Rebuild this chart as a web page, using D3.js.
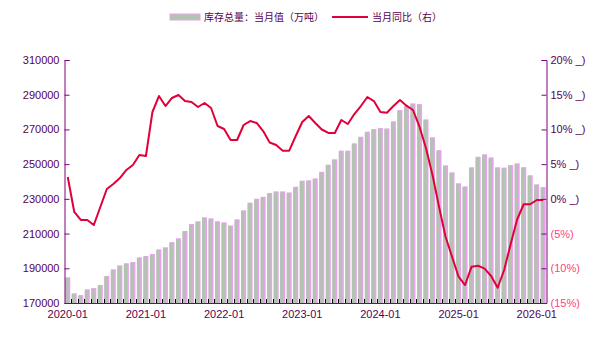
<!DOCTYPE html>
<html><head><meta charset="utf-8">
<script src="https://cdn.jsdelivr.net/npm/d3@7"></script>
<style>
html,body{margin:0;padding:0;background:#fff;}
svg{display:block;font-family:"Liberation Sans",Arial,sans-serif;}
</style></head>
<body>
<svg id="chart" width="606" height="341"></svg>
<script>
// ---- data ----
const months = [];
for (let y = 2020; y <= 2026; y++) {
  for (let m = 1; m <= 12; m++) {
    if (y === 2026 && m > 2) break;
    months.push(y + "-" + String(m).padStart(2, "0"));
  }
}
const barValues = [
  184800,175600,174600,177900,178600,180400,185600,189400,191700,192900,193600,196300,
  197100,198200,200900,202100,205100,207300,211500,215500,217100,219400,218800,217100,
  216500,214700,218200,223400,227800,230100,231200,233400,234300,234300,233700,237000,
  240500,240700,241800,245600,249700,252800,257800,257800,262000,265800,268700,270200,
  270800,270600,274700,281200,283500,285000,284600,275800,265500,258100,249300,245300,
  239000,237200,248200,254300,255700,253900,248200,248000,249500,250500,248300,243600,
  238400,236800
];
const yoyValues = [
  3.15,-1.89,-3.04,-3.04,-3.77,-1.17,1.42,2.14,3.0,4.16,4.88,6.32,
  6.17,12.51,14.81,13.37,14.53,14.96,14.09,13.95,13.23,13.81,13.09,10.49,
  10.06,8.48,8.48,10.64,11.21,10.93,9.77,8.12,7.76,6.94,6.94,9.05,
  11.07,11.93,10.93,9.99,9.49,9.49,11.36,10.78,12.22,13.37,14.67,14.09,
  12.51,12.41,13.37,14.24,13.42,12.80,10.39,7.28,3.44,-1.13,-5.45,-8.33,
  -11.21,-12.41,-9.77,-9.63,-10.06,-11.11,-12.80,-10.25,-6.50,-2.94,-0.78,-0.78,
  -0.16,-0.16
];
const leftTicks = [170000,190000,210000,230000,250000,270000,290000,310000];
const rightTicks = [-15,-10,-5,0,5,10,15,20];
const xLabels = ["2020-01","2021-01","2022-01","2023-01","2024-01","2025-01","2026-01"];
const legendBar = "库存总量：当月值（万吨）";
const legendLine = "当月同比（右）";

// ---- layout ----
const L = 64.5, R = 546.5, T = 60, B = 303;
const axisColor = "#800080", textColor = "#5a0050", negColor = "#ff4088";
const barGray = "#b1c4af", barPink = "#e7a4ec", lineColor = "#e0003a";

const svg = d3.select("#chart");
const x = d3.scaleBand().domain(months).range([L, R]).paddingInner(0).paddingOuter(0);
const yL = d3.scaleLinear().domain([170000, 310000]).range([B, T]);
const yR = d3.scaleLinear().domain([-15, 20]).range([B, T]);
const bw = x.bandwidth();
const barW = 5;
const off = (bw - barW) / 2;

// bars
const bars = svg.append("g");
const data = months.map((m, i) => ({m, v: barValues[i], p: yoyValues[i]}));
bars.selectAll("rect.pink").data(data).join("rect")
  .attr("class", "pink")
  .attr("x", d => x(d.m) + off)
  .attr("y", d => yL(d.v))
  .attr("width", barW)
  .attr("height", d => B - yL(d.v))
  .attr("fill", barPink);
bars.selectAll("rect.gray").data(data).join("rect")
  .attr("class", "gray")
  .attr("x", d => x(d.m) + off)
  .attr("y", d => yL(d.v) + 1)
  .attr("width", barW - 1.7)
  .attr("height", d => Math.max(0, B - yL(d.v) - 1))
  .attr("fill", barGray);

// line
const line = d3.line().x(d => x(d.m) + bw / 2).y(d => yR(d.p));
svg.append("path").datum(data)
  .attr("d", line)
  .attr("fill", "none")
  .attr("stroke", lineColor)
  .attr("stroke-width", 2)
  .attr("stroke-linejoin", "round");

// left axis
const gL = svg.append("g").attr("transform", `translate(${L},0)`)
  .call(d3.axisLeft(yL).tickValues(leftTicks).tickSize(-5).tickPadding(5).tickFormat(d3.format("d")));
gL.select(".domain").attr("stroke", axisColor).attr("stroke-width", 1);
gL.selectAll(".tick line").attr("stroke", axisColor);
gL.selectAll(".tick text").attr("fill", textColor).attr("font-size", "11px")
  .attr("font-family", "Liberation Sans, Arial, sans-serif");

// right axis
const gR = svg.append("g").attr("transform", `translate(${R},0)`)
  .call(d3.axisRight(yR).tickValues(rightTicks).tickSize(-5).tickPadding(4)
    .tickFormat(v => v >= 0 ? `${v}% _)` : `(${-v}%)`));
gR.select(".domain").attr("stroke", axisColor).attr("stroke-width", 1);
gR.selectAll(".tick line").attr("stroke", axisColor);
gR.selectAll(".tick text").attr("fill", d => d >= 0 ? textColor : negColor).attr("font-size", "11px")
  .attr("font-family", "Liberation Sans, Arial, sans-serif");

// bottom axis
const gB = svg.append("g").attr("transform", `translate(0,${B})`)
  .call(d3.axisBottom(x).tickValues(xLabels).tickSize(0).tickPadding(7.5));
gB.select(".domain").attr("stroke", axisColor).attr("stroke-width", 1).attr("d", `M${L},0.5H${R}`);
gB.selectAll(".tick text").attr("fill", textColor).attr("font-size", "11px")
  .attr("font-family", "Liberation Sans, Arial, sans-serif");
svg.append("g").selectAll("line").data(months.slice(1)).join("line")
  .attr("x1", d => Math.round(x(d)) + 0.5).attr("x2", d => Math.round(x(d)) + 0.5)
  .attr("y1", B - 4).attr("y2", B)
  .attr("stroke", "#000").attr("stroke-width", 1);

// legend
const lg = svg.append("g").attr("font-size", "10px").attr("fill", textColor);
lg.append("rect").attr("x", 170).attr("y", 14).attr("width", 30).attr("height", 6)
  .attr("fill", barGray).attr("stroke", barPink).attr("stroke-width", 1);
lg.append("text").attr("x", 204).attr("y", 21).text(legendBar)
  .attr("font-family", "Noto Sans CJK SC, sans-serif");
lg.append("line").attr("x1", 332).attr("x2", 368).attr("y1", 17).attr("y2", 17)
  .attr("stroke", lineColor).attr("stroke-width", 2);
lg.append("text").attr("x", 372).attr("y", 21).text(legendLine)
  .attr("font-family", "Noto Sans CJK SC, sans-serif");
</script>
</body></html>
